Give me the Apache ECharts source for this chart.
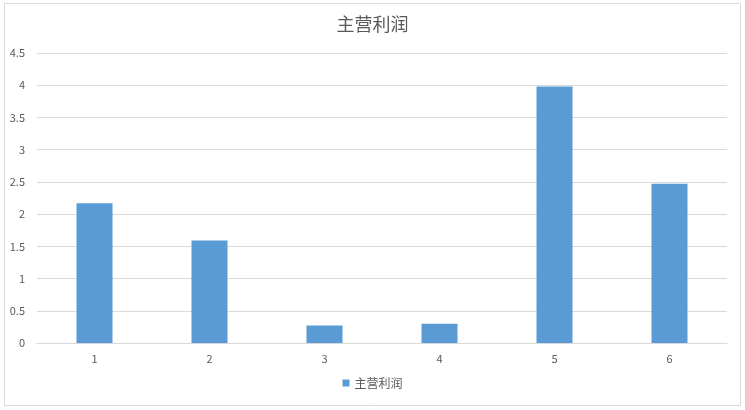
<!DOCTYPE html>
<html><head><meta charset="utf-8">
<script src="https://cdn.jsdelivr.net/npm/echarts@6/dist/echarts.min.js"></script>
<style>html,body{margin:0;padding:0;background:#fff}#c{width:745px;height:410px}</style>
</head><body><div id="c"></div>
<script>
const categories = ['1','2','3','4','5','6'];
const profit = [2.17, 1.59, 0.27, 0.30, 3.98, 2.47];
const seriesName = '主营利润';
const titleText = '主营利润';

const chart = echarts.init(document.getElementById('c'));
const font = '"Microsoft YaHei","Noto Sans CJK SC",sans-serif';
chart.setOption({
  backgroundColor: '#fff',
  animation: false,
  title: { text: titleText, left: 'center', top: 10,
    textStyle: { fontFamily: font, fontSize: 18, fontWeight: 'normal', color: '#595959' } },
  legend: { bottom: 16, left: 'center', itemWidth: 7, itemHeight: 7, itemGap: 4,
    icon: 'rect', data: [seriesName],
    textStyle: { fontFamily: font, fontSize: 12, color: '#595959' } },
  grid: { left: 37, right: 18, top: 53, bottom: 67, containLabel: false },
  xAxis: { type: 'category', data: categories,
    axisLine: { lineStyle: { color: '#d9d9d9' } }, axisTick: { show: false },
    axisLabel: { color: '#595959', fontFamily: font, fontSize: 11, margin: 10 } },
  yAxis: { type: 'value', min: 0, max: 4.5, interval: 0.5,
    axisLine: { show: false }, axisTick: { show: false },
    splitLine: { lineStyle: { color: '#d9d9d9' } },
    axisLabel: { color: '#595959', fontFamily: font, fontSize: 11, margin: 12 } },
  series: [{ name: seriesName, type: 'bar', data: profit, barWidth: 36,
    itemStyle: { color: '#5b9bd5' } }],
  graphic: [
    { type: 'rect', shape: { x: 4.5, y: 3.5, width: 736, height: 402 },
      style: { fill: null, stroke: '#d9d9d9', lineWidth: 1 }, silent: true }
  ]
});
</script></body></html>
